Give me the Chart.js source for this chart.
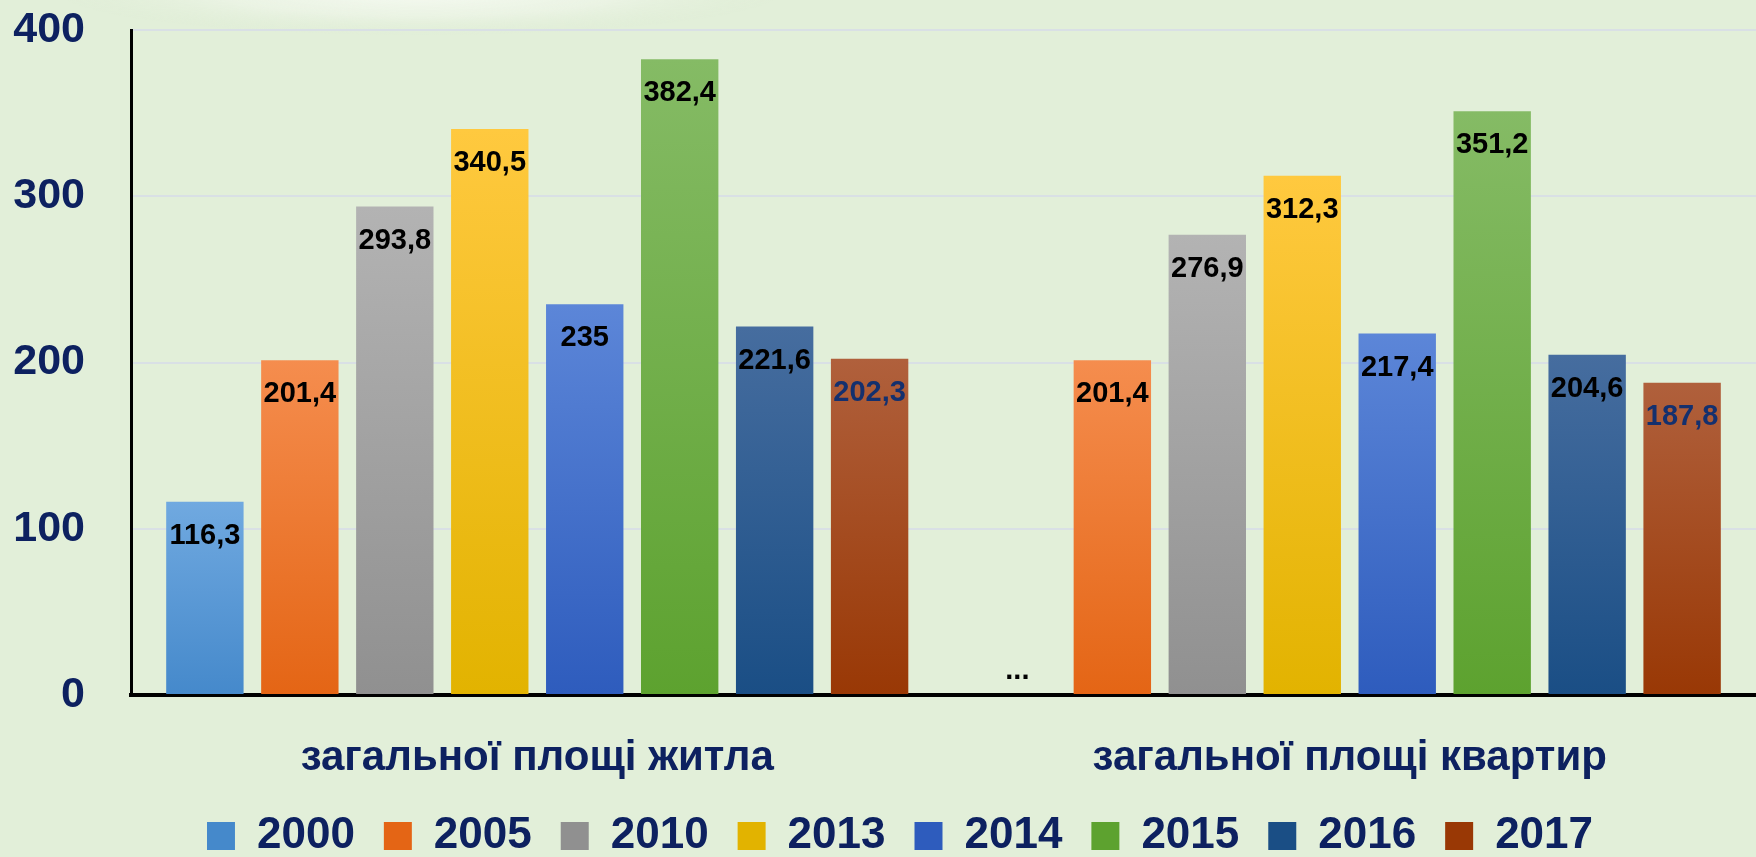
<!DOCTYPE html>
<html><head><meta charset="utf-8">
<script src="https://cdn.jsdelivr.net/npm/chart.js@4.4.1/dist/chart.umd.min.js"></script>
<style>
html,body{margin:0;padding:0;background:#e2efd9;overflow:hidden;}
#wrap{position:relative;width:1756px;height:857px;}
</style></head><body>
<div id="wrap"><canvas id="c" width="1756" height="857"></canvas></div>
<script>
const categories = ['загальної площі житла', 'загальної площі квартир'];
const years = ['2000', '2005', '2010', '2013', '2014', '2015', '2016', '2017'];
const housingArea = [116.3, 201.4, 293.8, 340.5, 235, 382.4, 221.6, 202.3];
const apartmentArea = [null, 201.4, 276.9, 312.3, 217.4, 351.2, 204.6, 187.8];
const yTicks = [0, 100, 200, 300, 400];

const topColors = ['#70a9e0', '#f58d4e', '#b3b3b3', '#ffc93f', '#5c86d8', '#85bb65', '#466d9f', '#b0603c'];
const bottomColors = ['#4589cb', '#e46515', '#909090', '#e2b300', '#2e5cbd', '#5da22f', '#1a4e85', '#993805'];
const labelColors = ['#000', '#000', '#000', '#000', '#000', '#000', '#000', '#14306e'];
const NAVY = '#0d2160';
const FONT = "'Liberation Sans', Arial, sans-serif";
Chart.defaults.font.family = FONT;

function barFill(i) {
  return (c) => {
    const chart = c.chart;
    if (c.type !== 'data' || !chart.chartArea) {
      if (!chart.ctx) return topColors[i];
      const g = chart.ctx.createLinearGradient(0, 822, 0, 850);
      g.addColorStop(0, topColors[i]); g.addColorStop(1, bottomColors[i]);
      return g;
    }
    const v = c.raw;
    if (v == null) return 'rgba(0,0,0,0)';
    const ys = chart.scales.y;
    const t = ys.getPixelForValue(v), b = ys.getPixelForValue(0);
    if (!isFinite(t) || !isFinite(b) || t === b) return topColors[i];
    const g = chart.ctx.createLinearGradient(0, t, 0, b);
    g.addColorStop(0, topColors[i]); g.addColorStop(1, bottomColors[i]);
    return g;
  };
}

const datasets = years.map((yr, i) => ({
  label: yr,
  data: [housingArea[i], apartmentArea[i]],
  backgroundColor: barFill(i),
  borderWidth: 0
}));

const backdrop = {
  id: 'backdrop',
  beforeDraw(chart) {
    const {ctx} = chart;
    ctx.save();
    ctx.translate(420, -8);
    ctx.scale(1, 0.12);
    const g = ctx.createRadialGradient(0, 0, 10, 0, 0, 360);
    g.addColorStop(0, 'rgba(246,250,242,0.95)');
    g.addColorStop(0.55, 'rgba(238,245,232,0.7)');
    g.addColorStop(1, 'rgba(226,239,217,0)');
    ctx.fillStyle = g;
    ctx.fillRect(-400, -400, 800, 800);
    ctx.restore();
  }
};

const valueLabels = {
  id: 'valueLabels',
  afterDatasetsDraw(chart) {
    const {ctx} = chart; const ys = chart.scales.y;
    ctx.save();
    ctx.font = `bold 29px ${FONT}`;
    ctx.textAlign = 'center'; ctx.textBaseline = 'middle';
    chart.data.datasets.forEach((ds, i) => {
      const meta = chart.getDatasetMeta(i);
      meta.data.forEach((el, j) => {
        const v = ds.data[j];
        if (v == null) {
          ctx.fillStyle = '#000';
          ctx.fillText('...', el.x, ys.getPixelForValue(0) - 24);
          return;
        }
        ctx.fillStyle = labelColors[i];
        ctx.fillText(String(v).replace('.', ','), el.x, el.y + 34);
      });
    });
    ctx.restore();
  }
};

const legendFix = {
  id: 'legendFix',
  beforeLayout(chart) {
    const lg = chart.legend;
    if (lg && !lg._fixed) {
      const f = lg.fit;
      lg.fit = function () { f.call(this); this.height = 72; };
      lg._fixed = true;
    }
  },
  afterLayout(chart) {
    if (chart.legend) { chart.legend.left += 22; chart.legend.right += 22; }
  }
};

new Chart(document.getElementById('c'), {
  type: 'bar',
  data: { labels: categories, datasets },
  plugins: [backdrop, valueLabels, legendFix],
  options: {
    responsive: false, animation: false, devicePixelRatio: 1,
    layout: { padding: { top: 30, left: 0, right: 0, bottom: 0 } },
    datasets: { bar: { categoryPercentage: 0.935, barPercentage: 0.815 } },
    plugins: {
      legend: {
        position: 'bottom',
        labels: { font: { size: 44, weight: 'bold' }, color: NAVY, boxWidth: 28, boxHeight: 28, padding: 29 }
      },
      tooltip: { enabled: false }
    },
    scales: {
      x: {
        grid: { display: false, drawTicks: false },
        border: { display: true, color: '#000', width: 4 },
        ticks: { font: { size: 42, weight: 'bold' }, color: NAVY, padding: 38 },
        afterFit: s => { s.height = 90; }
      },
      y: {
        min: 0, max: 400,
        afterBuildTicks: s => { s.ticks = yTicks.map(v => ({ value: v })); },
        ticks: { font: { size: 43, weight: 'bold' }, color: NAVY, padding: 46 },
        grid: { color: '#d9e0e5', lineWidth: 2, drawTicks: false },
        border: { color: '#000', width: 3 },
        afterFit: s => { s.width = 131; s.paddingTop = 0; s.paddingBottom = 0; }
      }
    }
  }
});
</script>
</body></html>
